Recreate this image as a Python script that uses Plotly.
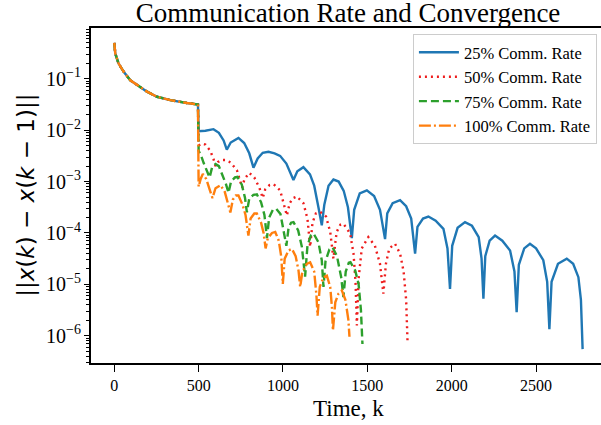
import plotly.graph_objects as go

# ---- data (k, log10 of ||x(k)-x(k-1)||) ----
early_k = [0, 6, 25, 55, 95, 134, 194, 253, 332, 430, 496]
early_log = [-0.30, -0.51, -0.70, -0.86, -1.03, -1.12, -1.25, -1.35, -1.415, -1.47, -1.50]

blue_k = [500, 540, 588, 620, 648, 667, 690, 736, 770, 800, 825, 850, 880, 914, 950, 983,
          1020, 1045, 1062, 1085, 1121, 1160, 1185, 1210, 1230, 1245, 1270, 1299, 1330, 1360,
          1385, 1408, 1422, 1455, 1497, 1540, 1575, 1605, 1618, 1650, 1694, 1730, 1760, 1783,
          1797, 1830, 1862, 1905, 1951, 1975, 1990, 2003, 2035, 2079, 2120, 2160, 2177, 2188,
          2199, 2225, 2257, 2300, 2346, 2372, 2385, 2398, 2430, 2464, 2500, 2543, 2566, 2579,
          2592, 2630, 2682, 2720, 2751, 2766, 2776]
blue_log = [-2.02, -2.01, -1.98, -2.05, -2.20, -2.38, -2.24, -2.15, -2.25, -2.45, -2.73, -2.55,
            -2.44, -2.42, -2.45, -2.50, -2.65, -2.85, -2.97, -2.80, -2.72, -2.86, -3.08, -3.50,
            -3.85, -3.45, -3.08, -2.96, -3.00, -3.18, -3.50, -4.10, -3.55, -3.23, -3.17, -3.28,
            -3.55, -4.12, -3.62, -3.42, -3.36, -3.48, -3.72, -4.40, -3.88, -3.72, -3.68, -3.76,
            -3.92, -4.30, -5.09, -4.25, -3.90, -3.79, -3.86, -4.08, -4.50, -5.28, -4.45, -4.15,
            -4.05, -4.15, -4.34, -4.75, -5.54, -4.62, -4.30, -4.21, -4.30, -4.53, -4.95, -5.87,
            -4.95, -4.60, -4.50, -4.60, -4.86, -5.30, -6.26]

red_k = [500, 520, 540, 569, 588, 600, 615, 640, 660, 690, 727, 746, 758, 772, 800, 830, 860,
         880, 895, 920, 944, 983, 1003, 1023, 1040, 1060, 1082, 1121, 1145, 1161, 1175, 1195,
         1220, 1255, 1280, 1299, 1318, 1340, 1358, 1398, 1418, 1430, 1438, 1448, 1467, 1506,
         1545, 1575, 1595, 1610, 1630, 1664, 1694, 1715, 1730, 1738]
red_log = [-2.30, -2.26, -2.28, -2.40, -2.56, -2.70, -2.62, -2.58, -2.58, -2.63, -2.78, -2.97,
           -3.12, -2.95, -2.83, -2.92, -3.12, -3.32, -3.15, -3.07, -3.05, -3.17, -3.43, -3.66,
           -3.42, -3.32, -3.29, -3.42, -3.72, -4.27, -3.80, -3.62, -3.59, -3.68, -3.98, -4.50,
           -3.98, -3.84, -3.82, -4.01, -4.40, -4.95, -5.80, -4.90, -4.30, -4.08, -4.25, -4.60,
           -5.18, -4.60, -4.30, -4.21, -4.40, -4.75, -5.30, -6.09]

green_k = [500, 515, 530, 548, 565, 580, 600, 620, 645, 662, 677, 692, 715, 730, 756, 775, 786,
           800, 825, 845, 870, 890, 905, 918, 940, 960, 985, 1005, 1020, 1033, 1048, 1062, 1090,
           1112, 1131, 1145, 1165, 1181, 1210, 1230, 1240, 1252, 1275, 1294, 1320, 1345, 1358,
           1372, 1390, 1400, 1428, 1448, 1462, 1471]
green_log = [-2.40, -2.50, -2.64, -2.78, -2.92, -2.72, -2.66, -2.70, -2.90, -3.05, -3.22, -3.00,
             -2.92, -2.91, -3.06, -3.32, -3.60, -3.33, -3.26, -3.25, -3.40, -3.65, -4.10, -3.70,
             -3.55, -3.53, -3.63, -3.98, -4.25, -3.90, -3.80, -3.79, -3.95, -4.27, -4.85, -4.25,
             -4.05, -4.01, -4.18, -4.53, -5.05, -4.55, -4.32, -4.28, -4.45, -4.86, -5.25, -4.75,
             -4.58, -4.57, -4.73, -4.99, -5.50, -6.16]

orange_k = [500, 512, 525, 545, 565, 582, 600, 630, 655, 675, 688, 703, 720, 736, 760, 778, 795,
            808, 830, 845, 870, 885, 897, 910, 935, 954, 975, 990, 999, 1010, 1033, 1053, 1075,
            1092, 1102, 1115, 1141, 1161, 1185, 1198, 1205, 1218, 1240, 1260, 1280, 1290, 1296,
            1310, 1329, 1349, 1370, 1388, 1394]
orange_log = [-3.10, -2.95, -2.85, -2.95, -3.15, -3.32, -3.13, -3.07, -3.20, -3.46, -3.60, -3.35,
              -3.27, -3.27, -3.45, -3.65, -4.05, -3.72, -3.62, -3.62, -3.80, -4.00, -4.30, -4.10,
              -4.00, -3.98, -4.15, -4.47, -4.99, -4.50, -4.34, -4.31, -4.45, -4.73, -5.05, -4.75,
              -4.60, -4.57, -4.75, -5.20, -5.61, -5.05, -4.86, -4.83, -5.05, -5.44, -5.90, -5.35,
              -5.18, -5.12, -5.30, -5.70, -6.02]

series_names = ["25% Comm. Rate", "50% Comm. Rate", "75% Comm. Rate", "100% Comm. Rate"]
series_k = [blue_k, red_k, green_k, orange_k]
series_log = [blue_log, red_log, green_log, orange_log]
colors = ["#1f77b4", "#ee1c1c", "#2ca02c", "#ff7f0e"]
dashes = ["solid", "2px,4px", "8px,4px", "12px,3px,2px,3px"]

fig = go.Figure()
for name, ks, lv, c, d in zip(series_names, series_k, series_log, colors, dashes):
    xs = early_k + ks
    ys = [10 ** v for v in early_log + lv]
    fig.add_trace(go.Scatter(x=xs, y=ys, mode="lines", name=name,
                             line=dict(color=c, width=2.4, dash=d)))

serif = "Liberation Serif"
fig.update_layout(
    width=601, height=425,
    margin=dict(l=91, r=0, t=28, b=62),
    paper_bgcolor="white", plot_bgcolor="white",
    font=dict(family=serif, size=16, color="black"),
    title=dict(text="Communication Rate and Convergence", x=0.504, xanchor="center",
               xref="paper", y=1 - 13 / 425, yanchor="middle", yref="container",
               font=dict(family=serif, size=27, color="black")),
    showlegend=True,
    legend=dict(x=0.992, xanchor="right", y=0.982, yanchor="top",
                bgcolor="rgba(255,255,255,0.8)", bordercolor="#cccccc", borderwidth=1,
                font=dict(family=serif, size=16.5), tracegroupgap=0, itemwidth=40),
)
fig.update_xaxes(range=[-138, 2885], showgrid=False, zeroline=False,
                 showline=True, linecolor="black", linewidth=1.8, mirror=True,
                 ticks="outside", ticklen=7, tickwidth=1.3, tickcolor="black",
                 tickvals=[0, 500, 1000, 1500, 2000, 2500],
                 tickfont=dict(family=serif, size=16))
fig.update_yaxes(type="log", range=[-6.53, -0.012], showgrid=False, zeroline=False,
                 showline=True, linecolor="black", linewidth=1.8, mirror=False,
                 ticks="outside", ticklen=5, tickwidth=1.3, tickcolor="black",
                 dtick=1, exponentformat="power", showexponent="all",
                 tickfont=dict(family=serif, size=16),
                 minor=dict(ticks="outside", ticklen=3, tickwidth=1, tickcolor="black",
                            dtick="D1", showgrid=False))

fig.add_annotation(text="Time, k", xref="paper", yref="paper", x=0.504, y=-0.135,
                   xanchor="center", yanchor="middle", showarrow=False,
                   font=dict(family=serif, size=23, color="black"))
fig.add_annotation(text="||<i>x</i>(<i>k</i>) − <i>x</i>(<i>k</i> − 1)||", xref="paper",
                   yref="paper", x=-0.1288, y=0.5, xanchor="center", yanchor="middle",
                   textangle=-90, showarrow=False,
                   font=dict(family="DejaVu Sans", size=23, color="black"))

fig.write_html("out.html", config={"displayModeBar": False},
               post_script="document.body.style.margin='0';document.body.style.padding='0';")
